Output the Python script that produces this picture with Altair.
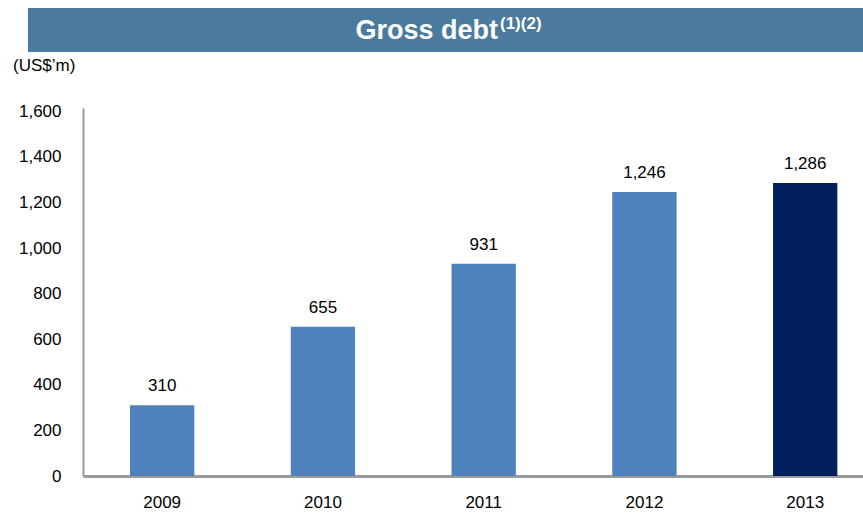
import altair as alt
import pandas as pd

years = ["2009", "2010", "2011", "2012", "2013"]
values = [310, 655, 931, 1246, 1286]
colors = ["#4F81BD", "#4F81BD", "#4F81BD", "#4F81BD", "#001F5B"]
y_ticks = [0, 200, 400, 600, 800, 1000, 1200, 1400, 1600]
title_main = "Gross debt"
title_sup = "(1)(2)"
unit_label = "(US$\u2019m)"

FONT = "Liberation Sans"
W, H = 780, 368

df = pd.DataFrame({"year": years, "value": values, "color": colors})
one = pd.DataFrame({"k": [0]})

x_scale = alt.Scale(paddingInner=0.6, paddingOuter=0.226, align=0.647)
y_scale = alt.Scale(domain=[0, 1615], nice=False)

x_enc = alt.X(
    "year:O",
    sort=years,
    scale=x_scale,
    axis=alt.Axis(
        title=None, labelAngle=0, ticks=False, domain=True, grid=False,
        domainColor="#9A9A9A", domainWidth=3, labelPadding=18,
        labelFontSize=17, labelColor="#000000", labelFont=FONT,
    ),
)
y_enc = alt.Y(
    "value:Q",
    scale=y_scale,
    axis=alt.Axis(
        title=None, values=y_ticks, format=",d", ticks=False, grid=False,
        domain=True, domainColor="#9A9A9A", domainWidth=2, labelPadding=22,
        labelFontSize=17, labelColor="#000000", labelFont=FONT,
    ),
)

bars = alt.Chart(df).mark_bar().encode(
    x=x_enc, y=y_enc, color=alt.Color("color:N", scale=None)
)

labels = alt.Chart(df).mark_text(
    baseline="alphabetic", dy=-14, fontSize=17, font=FONT, color="#000000"
).encode(
    x=alt.X("year:O", sort=years),
    y=alt.Y("value:Q"),
    text=alt.Text("value:Q", format=",d"),
)

banner = alt.Chart(one).mark_rect(color="#4A7A9D").encode(
    x=alt.value(-55), x2=alt.value(W), y=alt.value(-100), y2=alt.value(-56)
)
t_main = alt.Chart(one).mark_text(
    align="right", baseline="alphabetic", fontSize=27, fontWeight="bold",
    font=FONT, color="white"
).encode(x=alt.value(415), y=alt.value(-69), text=alt.value(title_main))
t_sup = alt.Chart(one).mark_text(
    align="left", baseline="alphabetic", fontSize=17, fontWeight="bold",
    font=FONT, color="white"
).encode(x=alt.value(417), y=alt.value(-79), text=alt.value(title_sup))
unit = alt.Chart(one).mark_text(
    align="left", baseline="alphabetic", fontSize=17, font=FONT, color="#000000"
).encode(x=alt.value(-70), y=alt.value(-37), text=alt.value(unit_label))

chart = alt.layer(banner, t_main, t_sup, unit, bars, labels).properties(
    width=W, height=H,
    background="white",
    autosize=alt.AutoSizeParams(type="none"),
    padding={"left": 83, "top": 108, "right": 0, "bottom": 39},
).configure_view(stroke=None).configure_axis(grid=False)

chart.save("out.html", embed_options={"renderer": "svg", "actions": False})
